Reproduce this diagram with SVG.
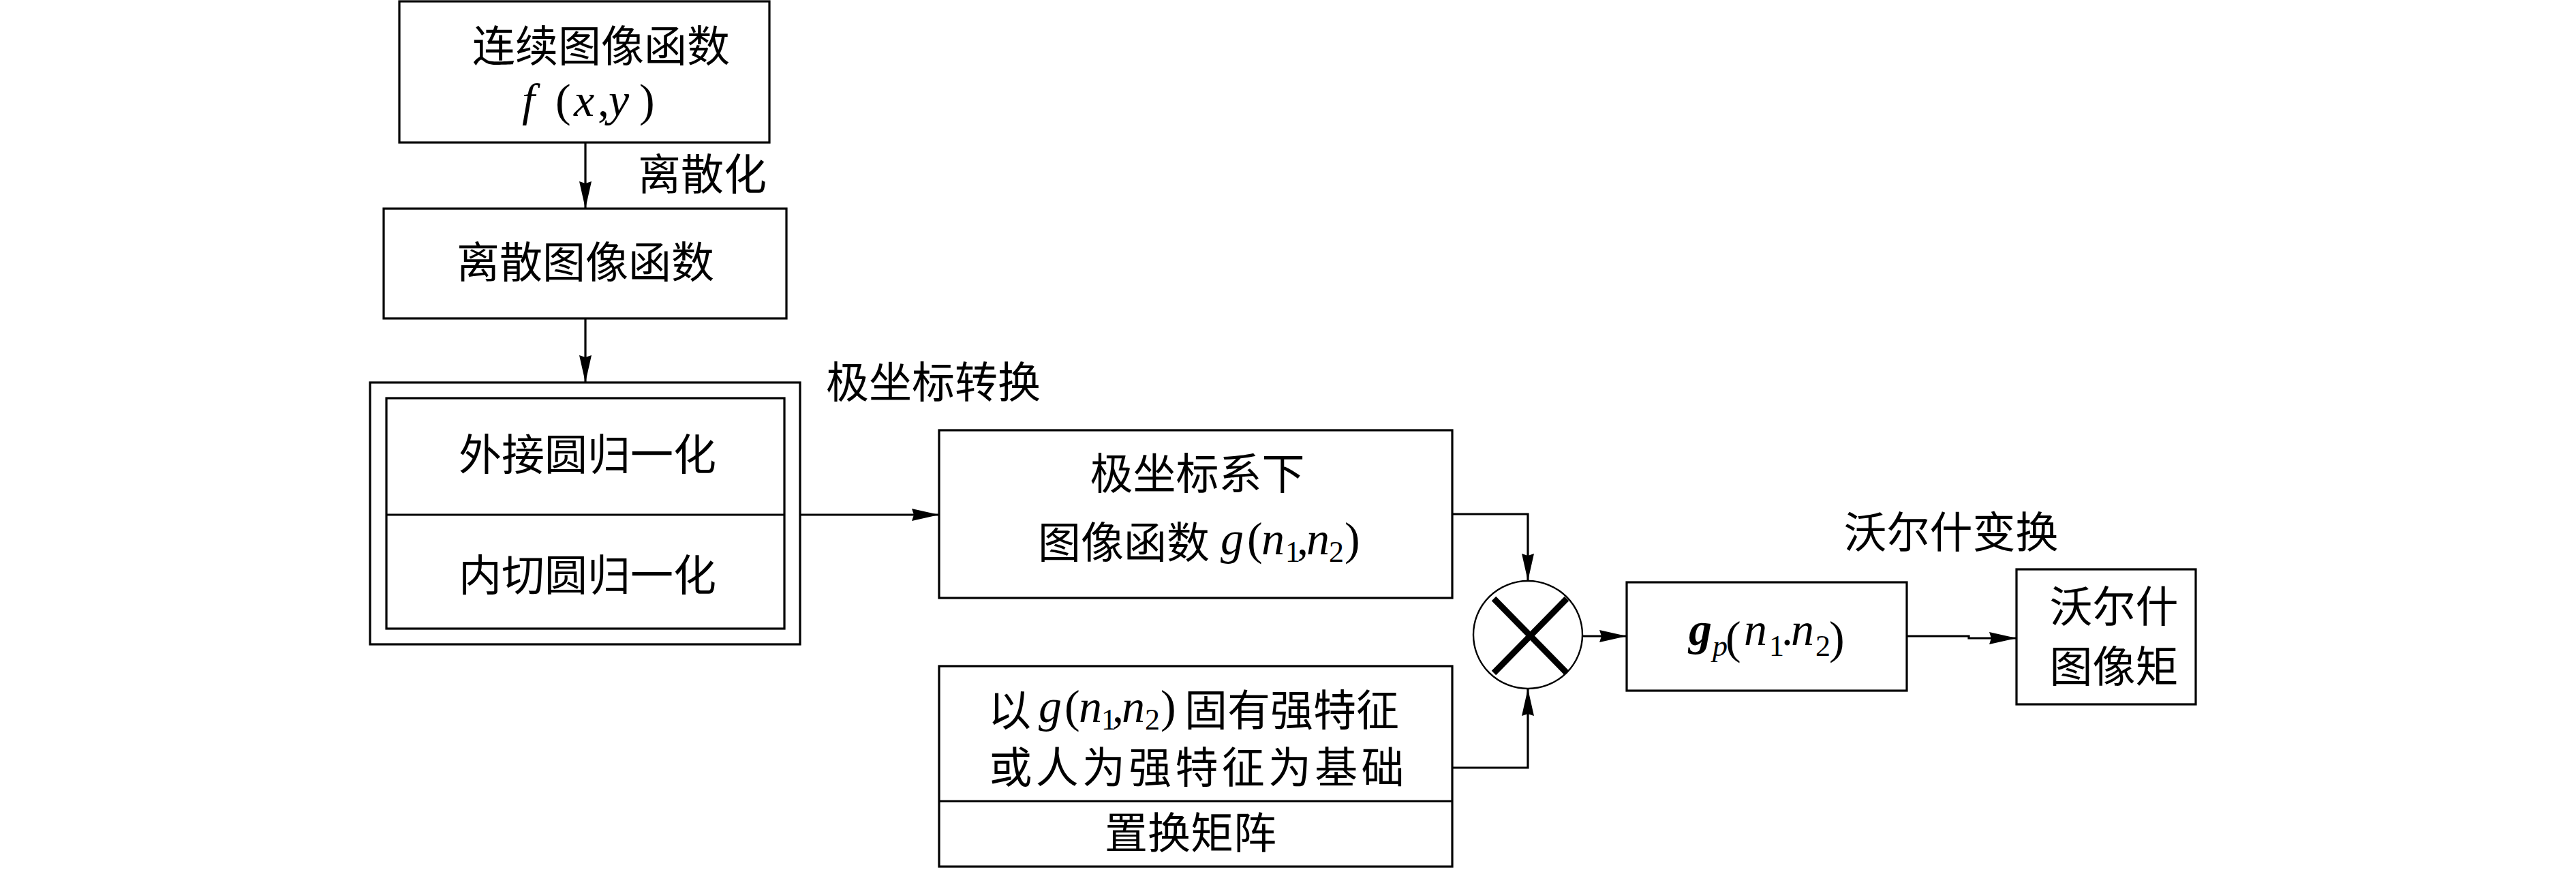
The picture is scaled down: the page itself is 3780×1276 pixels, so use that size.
<svg xmlns="http://www.w3.org/2000/svg" width="3780" height="1276" viewBox="0 0 3780 1276">
<defs>
<marker id="arr" markerUnits="userSpaceOnUse" markerWidth="42" markerHeight="20" refX="40" refY="9" orient="auto">
<path d="M0,0 L40,9 L0,18 L3,9 z" fill="#000"/>
</marker>
<style>
.box{fill:#fff;stroke:#000;stroke-width:3.2}
.ln{fill:none;stroke:#000;stroke-width:3.2}
.cjk{font-family:"Noto Sans CJK SC","Noto Sans CJK JP",sans-serif;font-size:63px;fill:#000}
.mi{font-family:"Liberation Serif","Times New Roman",serif;font-style:italic;font-size:68px;fill:#000}
.mr{font-family:"Liberation Serif","Times New Roman",serif;font-size:68px;fill:#000}
.sub{font-family:"Liberation Serif","Times New Roman",serif;font-size:44px;fill:#000}
</style>
</defs>
<rect width="3780" height="1276" fill="#fff"/>

<g id="connectors">
<line class="ln" x1="859" y1="209" x2="859" y2="306" marker-end="url(#arr)"/>
<line class="ln" x1="859" y1="467" x2="859" y2="561" marker-end="url(#arr)"/>
<line class="ln" x1="1174" y1="755" x2="1378" y2="755" marker-end="url(#arr)"/>
<polyline class="ln" points="2131,754 2242,754 2242,852" marker-end="url(#arr)"/>
<polyline class="ln" points="2131,1126 2242,1126 2242,1010" marker-end="url(#arr)"/>
<line class="ln" x1="2322" y1="933" x2="2387" y2="933" marker-end="url(#arr)"/>
<polyline class="ln" points="2798,933 2889,933 2889,936 2959,936" marker-end="url(#arr)"/>
</g>

<g id="n-continuous">
<rect class="box" x="586" y="2" width="543" height="207"/>
<text class="cjk" x="882" y="90" text-anchor="middle">连续图像函数</text>
<text><tspan class="mi" x="766" y="170">f</tspan><tspan class="mr" x="815" y="170">(</tspan><tspan class="mi" x="842" y="170">x</tspan><tspan class="mr" x="877" y="170">,</tspan><tspan class="mi" x="893" y="170">y</tspan><tspan class="mr" x="938" y="170">)</tspan></text>
</g>

<g id="lbl-discretize">
<text class="cjk" x="936" y="278">离散化</text>
</g>

<g id="n-discrete">
<rect class="box" x="563" y="306" width="591" height="161"/>
<text class="cjk" x="859" y="407" text-anchor="middle">离散图像函数</text>
</g>

<g id="lbl-polar">
<text class="cjk" x="1212" y="583">极坐标转换</text>
</g>

<g id="n-normalize">
<rect class="box" x="543" y="561" width="631" height="384"/>
<rect class="box" x="567" y="584" width="584" height="338"/>
<line class="ln" x1="567" y1="755" x2="1151" y2="755"/>
<text class="cjk" x="862" y="689" text-anchor="middle">外接圆归一化</text>
<text class="cjk" x="862" y="866" text-anchor="middle">内切圆归一化</text>
</g>

<g id="n-polar-func">
<rect class="box" x="1378" y="631" width="753" height="246"/>
<text class="cjk" x="1757" y="717" text-anchor="middle">极坐标系下</text>
<text><tspan class="cjk" x="1523" y="818">图像函数</tspan><tspan class="mi" x="1791" y="813">g</tspan><tspan class="mr" x="1830" y="813">(</tspan><tspan class="mi" x="1851" y="813">n</tspan><tspan class="sub" x="1886" y="824">1</tspan><tspan class="mr" x="1903" y="813">,</tspan><tspan class="mi" x="1917" y="813">n</tspan><tspan class="sub" x="1950" y="824">2</tspan><tspan class="mr" x="1973" y="813">)</tspan></text>
</g>

<g id="n-permutation">
<rect class="box" x="1378" y="977" width="753" height="294"/>
<line class="ln" x1="1378" y1="1175" x2="2131" y2="1175"/>
<text><tspan class="cjk" x="1450" y="1064">以</tspan><tspan class="mi" x="1524" y="1059">g</tspan><tspan class="mr" x="1562" y="1059">(</tspan><tspan class="mi" x="1583" y="1059">n</tspan><tspan class="sub" x="1616" y="1070">1</tspan><tspan class="mr" x="1632" y="1059">,</tspan><tspan class="mi" x="1646" y="1059">n</tspan><tspan class="sub" x="1680" y="1070">2</tspan><tspan class="mr" x="1703" y="1059">)</tspan><tspan class="cjk" x="1738" y="1064">固有强特征</tspan></text>
<text class="cjk" x="1756" y="1148" text-anchor="middle" textLength="609">或人为强特征为基础</text>
<text class="cjk" x="1747" y="1244" text-anchor="middle">置换矩阵</text>
</g>

<g id="n-multiply">
<ellipse cx="2242" cy="931" rx="80" ry="79" fill="#fff" stroke="#000" stroke-width="2.4"/>
<line x1="2192" y1="878" x2="2299" y2="987" stroke="#000" stroke-width="9"/>
<line x1="2299" y1="878" x2="2192" y2="987" stroke="#000" stroke-width="9"/>
</g>

<g id="n-gp">
<rect class="box" x="2387" y="854" width="411" height="159"/>
<text><tspan class="mi" x="2478" y="946" font-weight="bold">g</tspan><tspan class="sub" x="2513" y="962" font-style="italic">p</tspan><tspan class="mr" x="2532" y="958" font-size="78">(</tspan><tspan class="mi" x="2559" y="946">n</tspan><tspan class="sub" x="2596" y="962">1</tspan><tspan class="mr" x="2614" y="946">.</tspan><tspan class="mi" x="2628" y="946">n</tspan><tspan class="sub" x="2664" y="962">2</tspan><tspan class="mr" x="2684" y="958" font-size="78">)</tspan></text>
</g>

<g id="lbl-walsh">
<text class="cjk" x="2863" y="803" text-anchor="middle">沃尔什变换</text>
</g>

<g id="n-walsh-moment">
<text class="cjk" x="3102" y="912" text-anchor="middle" font-size="60">沃尔什</text>
<text class="cjk" x="3102" y="1000" text-anchor="middle" font-size="60">图像矩</text>
<rect x="2959" y="835" width="263" height="198" fill="none" stroke="#000" stroke-width="3.2"/>
</g>
</svg>
